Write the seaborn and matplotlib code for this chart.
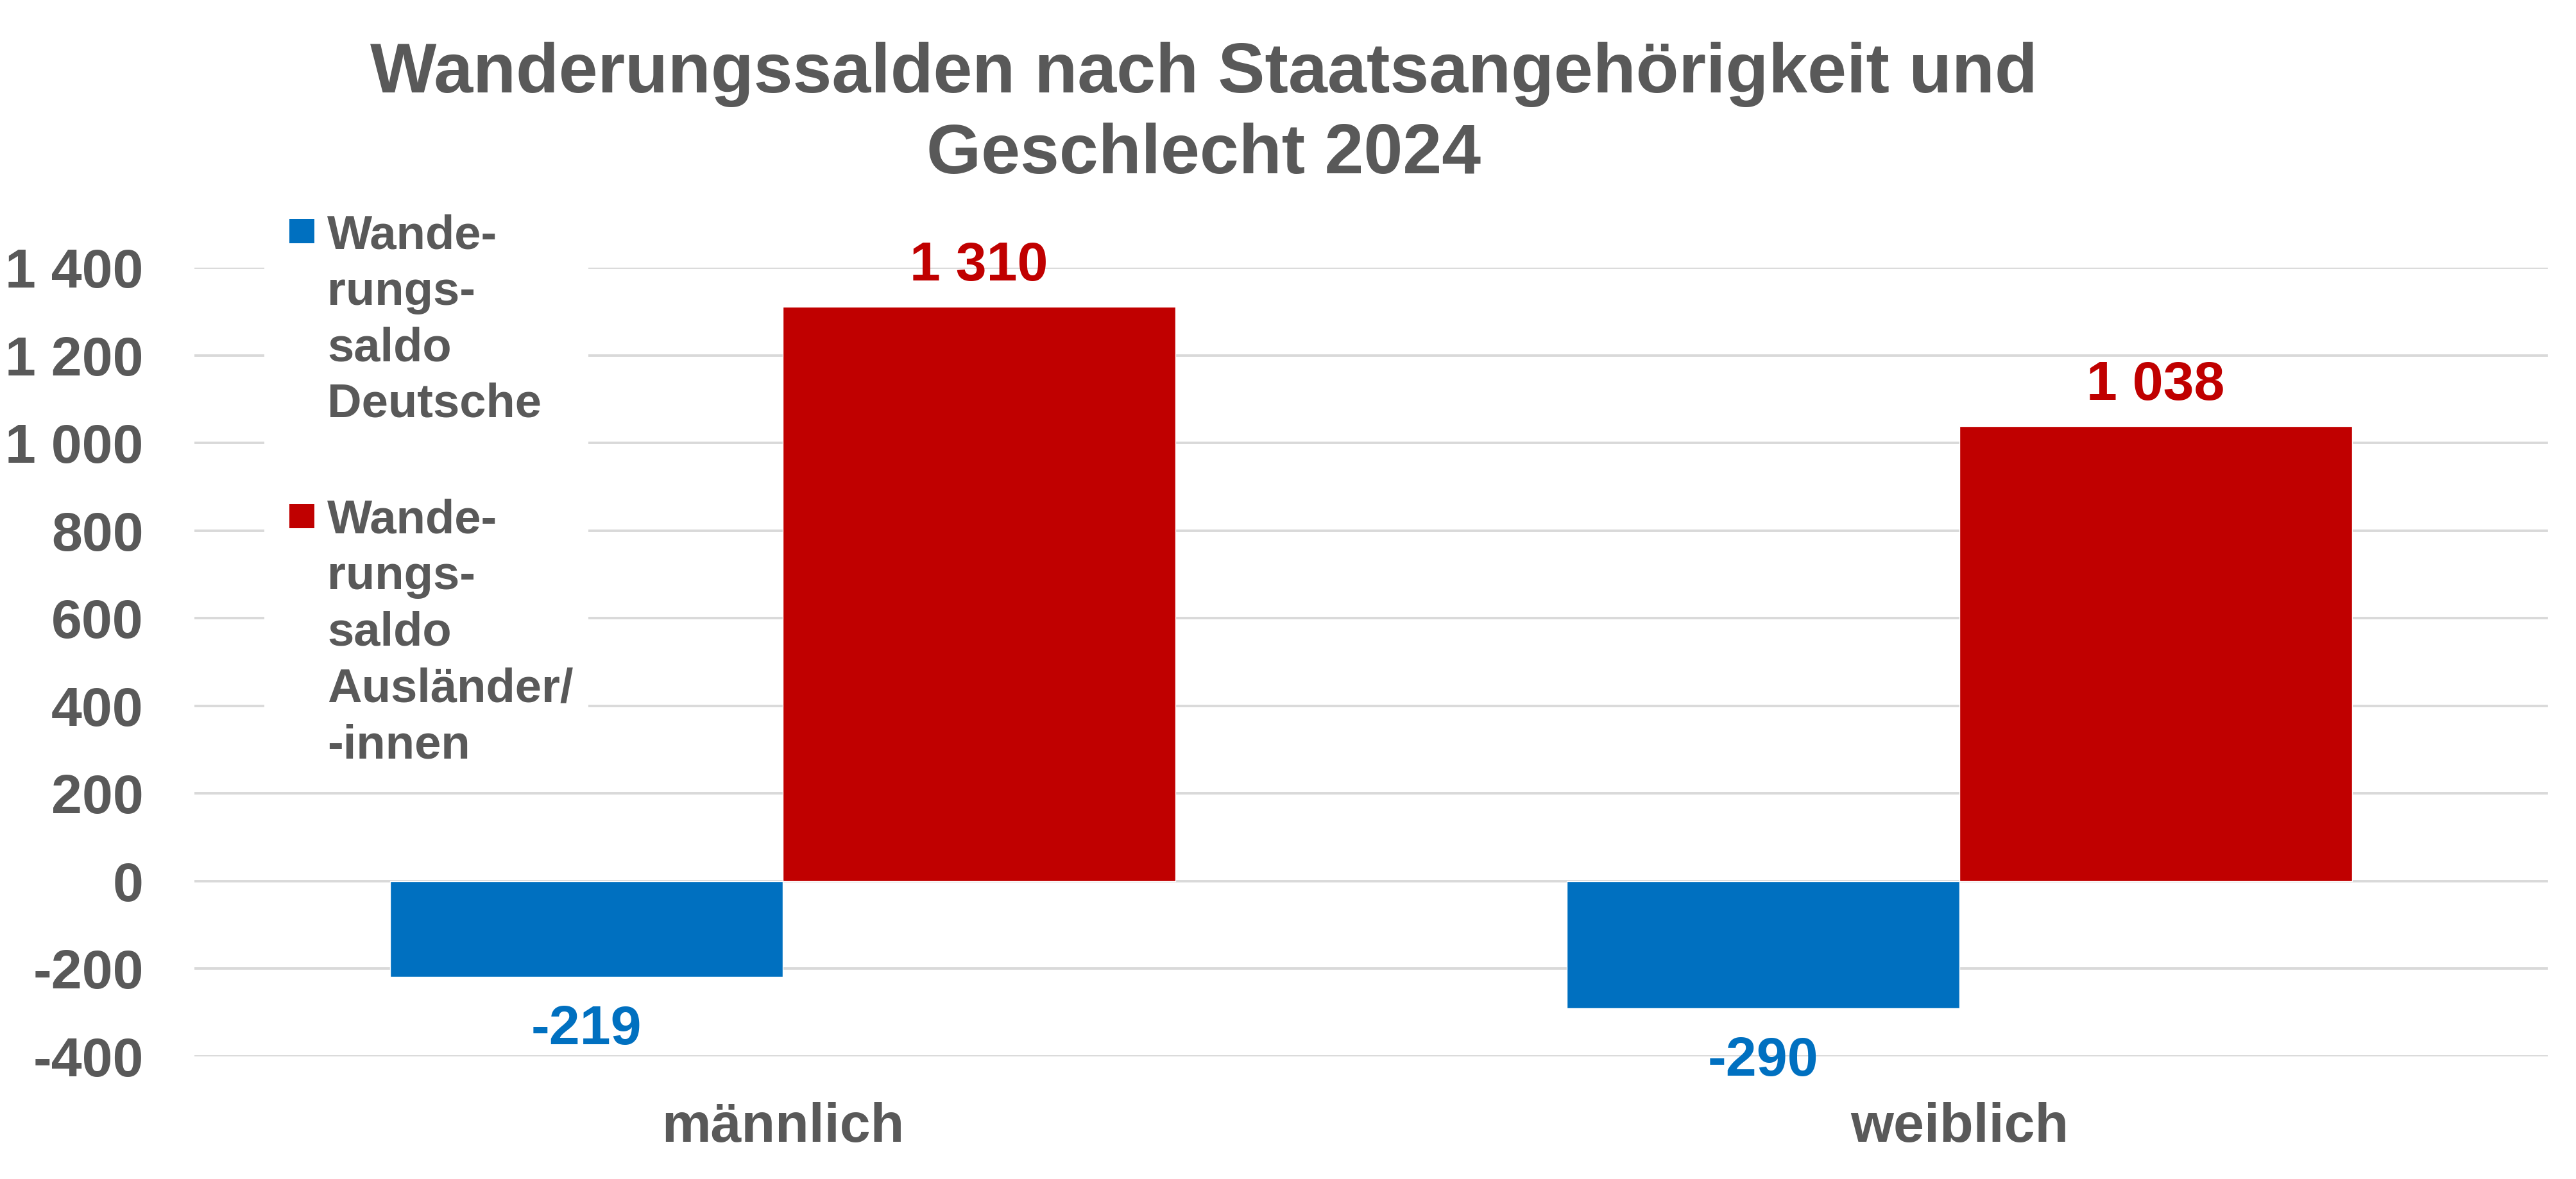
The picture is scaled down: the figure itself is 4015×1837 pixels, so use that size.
import pandas as pd
import numpy as np
import matplotlib.pyplot as plt
import seaborn as sns
from matplotlib.patches import Rectangle
from matplotlib.ticker import FuncFormatter

# data
geschlecht = ["männlich", "weiblich"]
gruppen = ["Wanderungssaldo Deutsche", "Wanderungssaldo Ausländer/-innen"]
saldo_deutsche = [-219, -290]
saldo_auslaender = [1310, 1038]
legend_labels = ["Wande-\nrungs-\nsaldo\nDeutsche", "Wande-\nrungs-\nsaldo\nAusländer/\n-innen"]
farben = ["#0070C0", "#C00000"]
grau = "#595959"

df = pd.DataFrame({
    "Geschlecht": geschlecht * 2,
    "Gruppe": [gruppen[0]] * 2 + [gruppen[1]] * 2,
    "Saldo": saldo_deutsche + saldo_auslaender,
})

sns.set_theme(style="white")
plt.rcParams["font.family"] = ["Liberation Sans", "DejaVu Sans"]
plt.rcParams["font.weight"] = "bold"

W, H = 4015, 1837
fig = plt.figure(figsize=(W / 100, H / 100), dpi=100)
ax = fig.add_axes([303 / W, 1 - 1646 / H, (3971 - 303) / W, (1646 - 417) / H])

sns.barplot(data=df, x="Geschlecht", y="Saldo", hue="Gruppe", order=geschlecht,
            hue_order=gruppen, palette=farben, saturation=1, width=0.667,
            gap=0, legend=False, ax=ax, zorder=2)

fmt = lambda v: f"{v:,.0f}".replace(",", " ")
pads = [31, 17]
for cont, col, pad in zip(ax.containers, farben, pads):
    ax.bar_label(cont, fmt=fmt, padding=pad, color=col, fontsize=62, fontweight="bold")

ax.set_ylim(-400, 1400)
ax.set_xlim(-0.5, 1.5)
ax.set_yticks(np.arange(-400, 1401, 200))
ax.yaxis.set_major_formatter(FuncFormatter(lambda v, p: fmt(v)))
ax.grid(axis="y", color="#D9D9D9", linewidth=2.8, zorder=0)
ax.set_axisbelow(True)
ax.tick_params(axis="y", length=0, pad=57, labelsize=62, labelcolor=grau)
ax.tick_params(axis="x", length=0, pad=51, labelsize=62, labelcolor=grau)
ax.set_xlabel("")
ax.set_ylabel("")
sns.despine(ax=ax, left=True, bottom=True)

# title (va=baseline anchors the last line)
fig.text(1876 / W, 1 - 270 / H, "Wanderungssalden nach Staatsangehörigkeit und\nGeschlecht 2024",
         ha="center", va="baseline", fontsize=78.8, fontweight="bold", color=grau, linespacing=1.31)

# legend (manual, markers aligned with first text line)
fig.add_artist(Rectangle((412 / W, 1 - 1210 / H), (917 - 412) / W, (1210 - 300) / H,
                         transform=fig.transFigure, facecolor="white", edgecolor="none", zorder=3))
first_bl = [385, 829]
last_bl = [650, 1181]
for lab, col, fb, lb in zip(legend_labels, farben, first_bl, last_bl):
    fig.add_artist(Rectangle((451 / W, 1 - (fb - 6) / H), 39 / W, 38 / H,
                             transform=fig.transFigure, facecolor=col, edgecolor="none", zorder=4))
    fig.text(510 / W, 1 - lb / H, lab, ha="left", va="baseline", fontsize=53.5,
             fontweight="bold", color=grau, linespacing=1.344, zorder=5)

fig.savefig("out.png", dpi=100, facecolor="white")
